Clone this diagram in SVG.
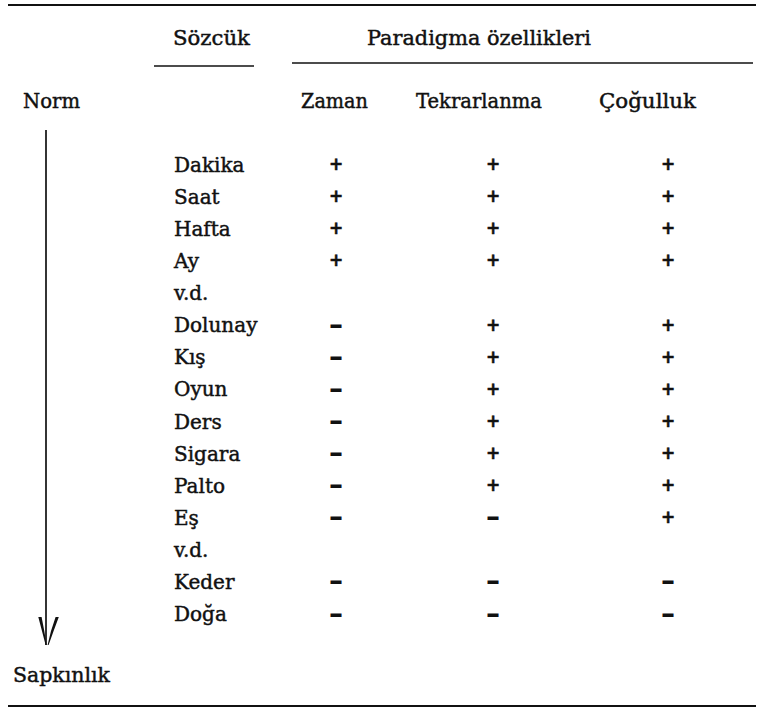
<svg xmlns="http://www.w3.org/2000/svg" width="764" height="708" viewBox="0 0 764 708">
  <style>
    .t { font-family: "DejaVu Serif", "Liberation Serif", serif; font-size: 20px; fill: #111; stroke: #111; stroke-width: 0.45; }
    .p { font-family: "DejaVu Sans", "Liberation Sans", sans-serif; font-size: 17px; font-weight: bold; fill: #111; stroke: #111; stroke-width: 0.5; text-anchor: middle; }
    .d { font-family: "DejaVu Sans", "Liberation Sans", sans-serif; font-size: 28px; font-weight: bold; fill: #111; text-anchor: middle; }
    .rule { stroke: #111; stroke-width: 2; fill: none; }
    .thin { stroke: #111; stroke-width: 1.7; fill: none; }
  </style>

  <!-- table rules -->
  <line class="rule" x1="8" y1="5" x2="756" y2="5"/>
  <line class="rule" x1="8" y1="706" x2="756" y2="706"/>

  <!-- header -->
  <g id="header">
    <text class="t" x="173" y="45" textLength="77" lengthAdjust="spacingAndGlyphs">Sözcük</text>
    <line class="thin" x1="154" y1="66" x2="254" y2="66"/>
    <text class="t" x="367" y="45" textLength="224" lengthAdjust="spacingAndGlyphs">Paradigma özellikleri</text>
    <line class="thin" x1="292" y1="63" x2="753" y2="63"/>
    <text class="t" x="23" y="108" textLength="57" lengthAdjust="spacingAndGlyphs">Norm</text>
    <text class="t" x="301" y="108" textLength="67" lengthAdjust="spacingAndGlyphs">Zaman</text>
    <text class="t" x="416" y="108" textLength="126" lengthAdjust="spacingAndGlyphs">Tekrarlanma</text>
    <text class="t" x="599" y="108" textLength="97" lengthAdjust="spacingAndGlyphs">Çoğulluk</text>
    <text class="t" x="13" y="682" textLength="97" lengthAdjust="spacingAndGlyphs">Sapkınlık</text>
  </g>

  <!-- connector: Norm to Sapkınlık -->
  <g id="connectors">
    <line class="thin" x1="46" y1="130" x2="46" y2="645"/>
    <path d="M38.3 617 L41.6 617 Q44.5 631 46.6 645 L45.6 645 Q42 631 38.3 617 Z" fill="#111"/>
    <path d="M58.8 617 L55.6 617 Q50.4 631 47.6 645 L48.6 645 Q53.5 631 58.8 617 Z" fill="#111"/>
  </g>

  <!-- rows: word, Zaman, Tekrarlanma, Çoğulluk -->
  <g id="row-dakika">
    <text class="t" x="174" y="171.7">Dakika</text>
    <text class="p" x="336" y="170">+</text><text class="p" x="493" y="170">+</text><text class="p" x="668" y="170">+</text>
  </g>
  <g id="row-saat">
    <text class="t" x="174" y="203.8">Saat</text>
    <text class="p" x="336" y="202.1">+</text><text class="p" x="493" y="202.1">+</text><text class="p" x="668" y="202.1">+</text>
  </g>
  <g id="row-hafta">
    <text class="t" x="174" y="235.9">Hafta</text>
    <text class="p" x="336" y="234.2">+</text><text class="p" x="493" y="234.2">+</text><text class="p" x="668" y="234.2">+</text>
  </g>
  <g id="row-ay">
    <text class="t" x="174" y="268">Ay</text>
    <text class="p" x="336" y="266.3">+</text><text class="p" x="493" y="266.3">+</text><text class="p" x="668" y="266.3">+</text>
  </g>
  <g id="row-vd1">
    <text class="t" x="174" y="300.1">v.d.</text>
  </g>
  <g id="row-dolunay">
    <text class="t" x="174" y="332.2">Dolunay</text>
    <text class="d" x="336" y="333.6">–</text><text class="p" x="493" y="330.5">+</text><text class="p" x="668" y="330.5">+</text>
  </g>
  <g id="row-kis">
    <text class="t" x="174" y="364.3">Kış</text>
    <text class="d" x="336" y="365.7">–</text><text class="p" x="493" y="362.6">+</text><text class="p" x="668" y="362.6">+</text>
  </g>
  <g id="row-oyun">
    <text class="t" x="174" y="396.4">Oyun</text>
    <text class="d" x="336" y="397.8">–</text><text class="p" x="493" y="394.7">+</text><text class="p" x="668" y="394.7">+</text>
  </g>
  <g id="row-ders">
    <text class="t" x="174" y="428.5">Ders</text>
    <text class="d" x="336" y="429.9">–</text><text class="p" x="493" y="426.8">+</text><text class="p" x="668" y="426.8">+</text>
  </g>
  <g id="row-sigara">
    <text class="t" x="174" y="460.6">Sigara</text>
    <text class="d" x="336" y="462">–</text><text class="p" x="493" y="458.9">+</text><text class="p" x="668" y="458.9">+</text>
  </g>
  <g id="row-palto">
    <text class="t" x="174" y="492.7">Palto</text>
    <text class="d" x="336" y="494.1">–</text><text class="p" x="493" y="491">+</text><text class="p" x="668" y="491">+</text>
  </g>
  <g id="row-es">
    <text class="t" x="174" y="524.8">Eş</text>
    <text class="d" x="336" y="526.2">–</text><text class="d" x="493" y="526.2">–</text><text class="p" x="668" y="523.1">+</text>
  </g>
  <g id="row-vd2">
    <text class="t" x="174" y="556.9">v.d.</text>
  </g>
  <g id="row-keder">
    <text class="t" x="174" y="589">Keder</text>
    <text class="d" x="336" y="590.4">–</text><text class="d" x="493" y="590.4">–</text><text class="d" x="668" y="590.4">–</text>
  </g>
  <g id="row-doga">
    <text class="t" x="174" y="621.1">Doğa</text>
    <text class="d" x="336" y="622.5">–</text><text class="d" x="493" y="622.5">–</text><text class="d" x="668" y="622.5">–</text>
  </g>
</svg>
